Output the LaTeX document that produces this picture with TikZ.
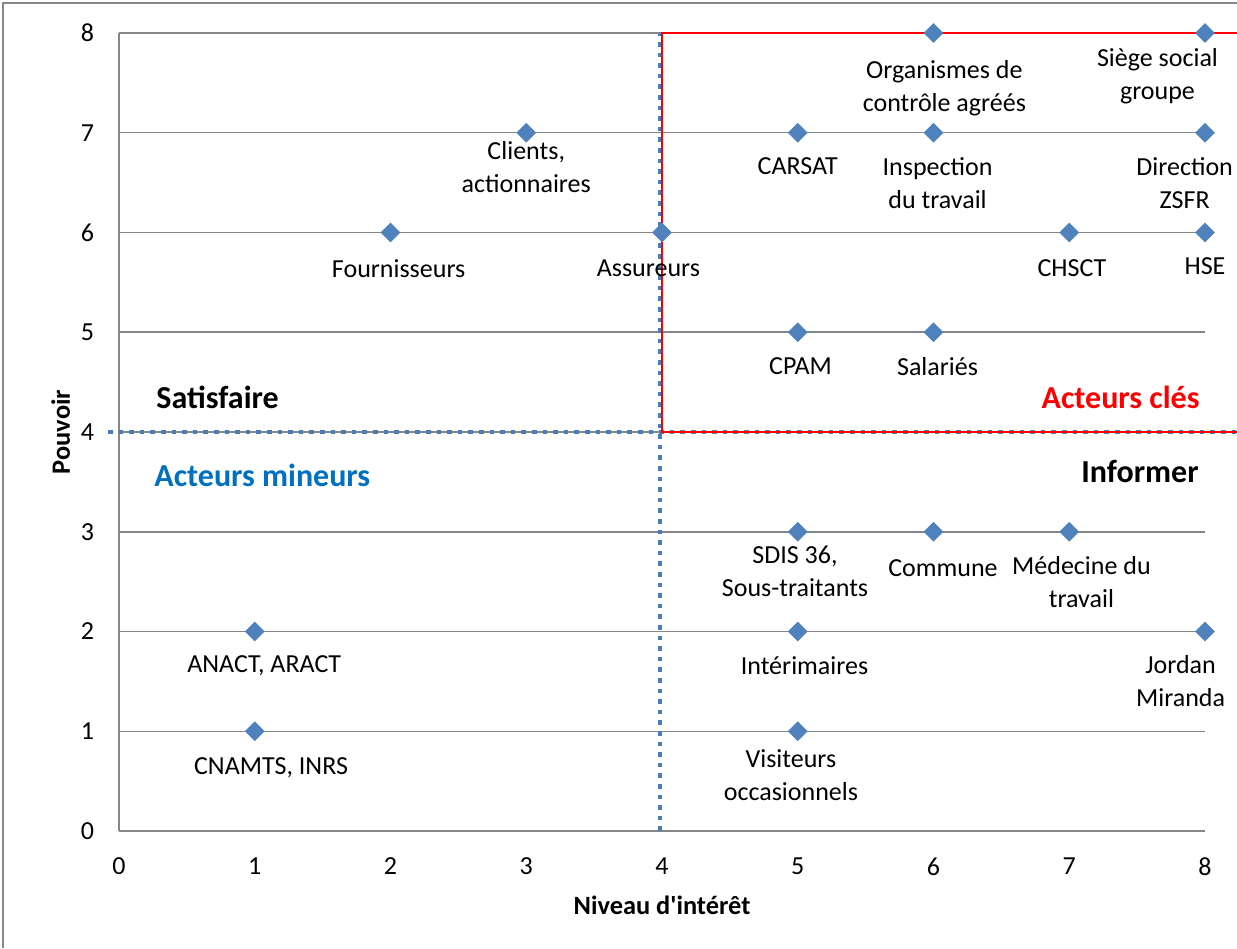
\documentclass[tikz,border=0pt]{standalone}
\usepackage{fontspec}
\setmainfont{Carlito}
\usepackage{xcolor}
\usepackage{tikz}
\usetikzlibrary{shapes.geometric, positioning}

\definecolor{gridgray}{RGB}{134,134,134}
\definecolor{markblue}{RGB}{79,129,189}
\definecolor{dotblue}{RGB}{74,126,187}
\definecolor{minblue}{RGB}{0,112,192}

\begin{document}
\begin{tikzpicture}[x=67.875pt, y=49.875pt,
	every node/.style={font=\fontsize{13}{16.5}\selectfont, inner sep=0pt},
	gridline/.style={draw=gridgray, line width=0.75pt},
	stakemark/.style={diamond, fill=markblue, minimum width=10pt, minimum height=10pt, inner sep=0pt},
	lbl/.style={align=center},
	quad/.style={font=\fontsize{16}{19}\selectfont\bfseries},
	axtitle/.style={font=\fontsize{13.2}{16}\selectfont\bfseries},
	sepline/.style={draw=dotblue, line width=2pt, dash pattern=on 2.3pt off 3pt},
	keyline/.style={draw=red, line width=1.1pt}]
\useasboundingbox (-0.8766,-1.1729) rectangle (8.2357,8.3308);
\draw[gridline] (-0.8545,-1.1729) -- (-0.8545,8.3007) -- (8.2357,8.3007);

\foreach \k in {0,...,8}{
	\draw[gridline] (0,\k) -- (8,\k);
	\node[anchor=east] (ytick\k) at (-0.18,\k) {\k};
	\node (xtick\k) at (\k,-0.355) {\k};
}
\draw[gridline] (0,0) -- (0,8);

\node[axtitle] (xtitle) at (4.0,-0.745) {Niveau d\textquotesingle intérêt};
\node[axtitle, rotate=90] (ytitle) at (-0.43,4) {Pouvoir};

\draw[sepline] (-0.081,4) -- (8.2357,4);
\draw[sepline] (3.985,0) -- (3.985,8);
\draw[keyline] (8.2357,8) -- (4,8) -- (4,4) -- (8.2357,4);

\node[stakemark] (org) at (6,8) {};
\node[stakemark] (siege) at (8,8) {};
\node[stakemark] (clients) at (3,7) {};
\node[stakemark] (carsat) at (5,7) {};
\node[stakemark] (inspection) at (6,7) {};
\node[stakemark] (direction) at (8,7) {};
\node[stakemark] (fourn) at (2,6) {};
\node[stakemark] (assur) at (4,6) {};
\node[stakemark] (chsct) at (7,6) {};
\node[stakemark] (hse) at (8,6) {};
\node[stakemark] (cpam) at (5,5) {};
\node[stakemark] (salaries) at (6,5) {};
\node[stakemark] (sdis) at (5,3) {};
\node[stakemark] (commune) at (6,3) {};
\node[stakemark] (medecine) at (7,3) {};
\node[stakemark] (anact) at (1,2) {};
\node[stakemark] (interim) at (5,2) {};
\node[stakemark] (jordan) at (8,2) {};
\node[stakemark] (cnamts) at (1,1) {};
\node[stakemark] (visiteurs) at (5,1) {};

\node[lbl] (orgL) at (6.08,7.45) {Organismes de\\contrôle agréés};
\node[lbl] (siegeL) at (7.65,7.57) {Siège social\\groupe};
\node[lbl] (clientsL) at (3.0,6.66) {Clients,\\actionnaires};
\node[lbl] (carsatL) at (5.0,6.67) {CARSAT};
\node[lbl] (inspectionL) at (6.03,6.5) {Inspection\\du travail};
\node[lbl] (directionL) at (7.85,6.5) {Direction\\ZSFR};
\node[lbl] (fournL) at (2.06,5.64) {Fournisseurs};
\node[lbl] (assurL) at (3.9,5.64) {Assureurs};
\node[lbl] (chsctL) at (7.02,5.64) {CHSCT};
\node[lbl] (hseL) at (8.0,5.66) {HSE};
\node[lbl] (cpamL) at (5.02,4.66) {CPAM};
\node[lbl] (salariesL) at (6.03,4.66) {Salariés};
\node[lbl] (sdisL) at (4.98,2.6) {SDIS 36,\\Sous-traitants};
\node[lbl] (communeL) at (6.07,2.64) {Commune};
\node[lbl] (medecineL) at (7.09,2.5) {Médecine du\\travail};
\node[lbl] (anactL) at (1.07,1.66) {ANACT, ARACT};
\node[lbl] (interimL) at (5.05,1.66) {Intérimaires};
\node[lbl] (jordanL) at (7.82,1.5) {Jordan\\Miranda};
\node[lbl] (cnamtsL) at (1.12,0.63) {CNAMTS, INRS};
\node[lbl] (visiteursL) at (4.95,0.56) {Visiteurs\\occasionnels};

\node[quad, anchor=west] (satisfaire) at (0.273,4.35) {Satisfaire};
\node[quad, anchor=west, text=minblue] (mineurs) at (0.258,3.57) {Acteurs mineurs};
\node[quad, anchor=east, text=red] (cles) at (7.963,4.35) {Acteurs clés};
\node[quad, anchor=east] (informer) at (7.956,3.6) {Informer};
\end{tikzpicture}
\end{document}
